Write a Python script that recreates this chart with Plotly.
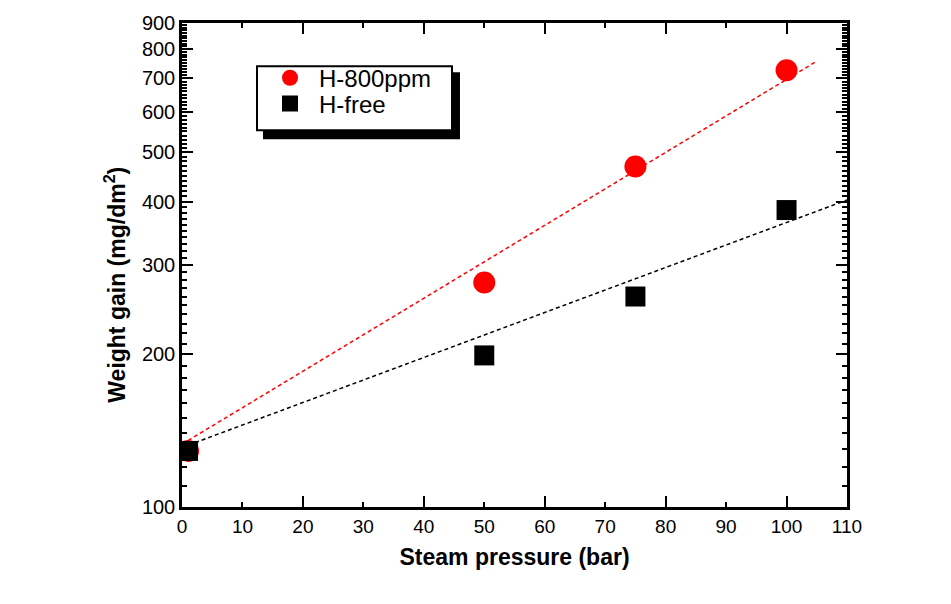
import plotly.graph_objects as go

# Data
pressure = [1, 50, 75, 100]
h800 = [129, 277, 469, 726]
hfree = [129, 199, 260, 385]

fit_x_red = [0, 104.7]
fit_red = [133, 753]
fit_x_black = [0, 110]
fit_black = [131, 403]

y_major = [100, 200, 300, 400, 500, 600, 700, 800, 900]
y_minor = [v for v in range(110, 900, 10) if v % 100 != 0]
x_ticks = list(range(0, 111, 10))

FONT = "Arial, Liberation Sans, sans-serif"

fig = go.Figure()

fig.add_trace(go.Scatter(x=fit_x_red, y=fit_red, mode="lines",
                         line=dict(color="#ff0000", width=1.5, dash="4px,3px"),
                         showlegend=False, hoverinfo="skip"))
fig.add_trace(go.Scatter(x=fit_x_black, y=fit_black, mode="lines",
                         line=dict(color="black", width=1.5, dash="4px,3px"),
                         showlegend=False, hoverinfo="skip"))
fig.add_trace(go.Scatter(x=pressure, y=h800, mode="markers", name="H-800ppm", legend="legend",
                         marker=dict(symbol="circle", size=22, color="#ff0000", line=dict(width=0))))
fig.add_trace(go.Scatter(x=pressure, y=hfree, mode="markers", name="H-free", legend="legend2",
                         marker=dict(symbol="square", size=20, color="black", line=dict(width=0))))
# invisible trace on xaxis2 for long major ticks every 20
fig.add_trace(go.Scatter(x=[0, 110], y=[100, 900], mode="markers", xaxis="x2",
                         marker=dict(opacity=0), showlegend=False, hoverinfo="skip"))

leg_common = dict(xanchor="left", yanchor="middle", bgcolor="rgba(0,0,0,0)", borderwidth=0,
                  font=dict(size=24), itemwidth=48)

fig.update_layout(
    width=951, height=604,
    margin=dict(l=182, r=104, t=15, b=97),
    paper_bgcolor="white", plot_bgcolor="white",
    font=dict(family=FONT, size=18, color="black"),
    xaxis=dict(range=[0, 110], tickvals=x_ticks, ticks="inside", ticklen=5, tickwidth=2,
               tickcolor="black", showline=True, linewidth=2.5, linecolor="black",
               mirror="ticks", showgrid=False, zeroline=False,
               tickfont=dict(size=19),
               title=dict(text="<b>Steam pressure (bar)</b>", font=dict(size=23), standoff=14)),
    xaxis2=dict(range=[0, 110], overlaying="x", side="bottom", dtick=20, tick0=0,
                ticks="inside", ticklen=11, tickwidth=2, tickcolor="black",
                showticklabels=False, showline=False, mirror="ticks", showgrid=False,
                zeroline=False),
    yaxis=dict(type="log", range=[2, 2.9542425], tickvals=y_major,
               ticktext=[str(v) for v in y_major],
               ticks="inside", ticklen=11, tickwidth=2, tickcolor="black",
               showline=True, linewidth=2.5, linecolor="black", mirror="ticks",
               showgrid=False, zeroline=False, tickfont=dict(size=20),
               minor=dict(tickvals=y_minor, ticks="inside", ticklen=5, tickwidth=1.5,
                          tickcolor="black", showgrid=False)),
    annotations=[dict(text="<b>Weight gain (mg/dm<sup>2</sup>)</b>", textangle=-90,
                      xref="paper", yref="paper", x=0, y=0.4593, xanchor="center",
                      yanchor="middle", xshift=-67, showarrow=False, font=dict(size=23))],
    legend=dict(x=0.1188, y=0.886, **leg_common),
    legend2=dict(x=0.1188, y=0.833, **leg_common),
    shapes=[
        dict(type="rect", xref="paper", yref="paper", x0=0.1218, x1=0.418,
             y0=0.760, y1=0.898, fillcolor="black", line=dict(width=0), layer="above"),
        dict(type="rect", xref="paper", yref="paper", x0=0.1128, x1=0.406,
             y0=0.7785, y1=0.9106, fillcolor="white", line=dict(color="black", width=2),
             layer="above"),
    ],
)

fig.write_html("out.html")
